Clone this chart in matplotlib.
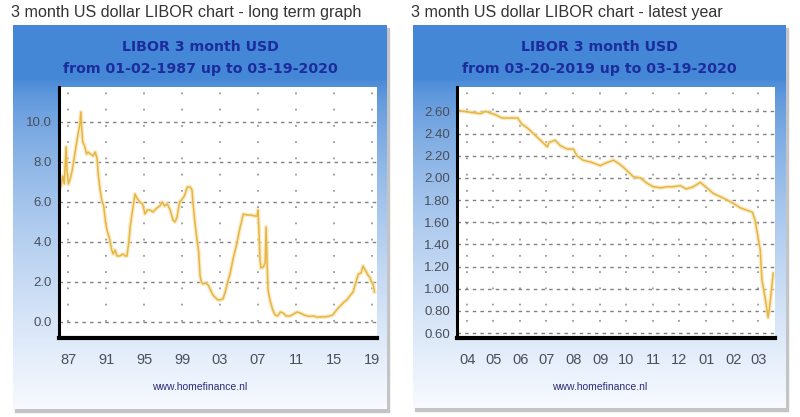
import numpy as np
import matplotlib
matplotlib.use("Agg")
import matplotlib.pyplot as plt
from matplotlib.patches import Rectangle

# long term series (decimal year, rate %)
long_years = [1987.05, 1987.2, 1987.4, 1987.55, 1987.75, 1987.85, 1988.0, 1988.2, 1988.4,
              1988.6, 1988.8, 1989.0, 1989.2, 1989.3, 1989.4, 1989.5, 1989.7, 1989.9,
              1990.05, 1990.3, 1990.6, 1990.8, 1991.0, 1991.15, 1991.3, 1991.5, 1991.7,
              1991.9, 1992.05, 1992.3, 1992.55, 1992.7, 1992.9, 1993.1, 1993.4, 1993.7,
              1994.0, 1994.15, 1994.35, 1994.5, 1994.75, 1995.0, 1995.2, 1995.5, 1995.8,
              1996.05, 1996.3, 1996.6, 1996.9, 1997.3, 1997.6, 1997.9, 1998.1, 1998.4,
              1998.7, 1999.0, 1999.2, 1999.4, 1999.7, 1999.9, 2000.2, 2000.5, 2000.8,
              2001.0, 2001.1, 2001.3, 2001.5, 2001.7, 2001.85, 2002.0, 2002.15, 2002.4,
              2002.7, 2002.95, 2003.2, 2003.5, 2003.75, 2004.0, 2004.25, 2004.5, 2004.75,
              2005.0, 2005.3, 2005.7, 2006.0, 2006.4, 2006.8, 2007.2, 2007.6, 2007.85,
              2007.95, 2008.05, 2008.15, 2008.25, 2008.5, 2008.7, 2008.8, 2008.9, 2009.0,
              2009.2, 2009.5, 2009.75, 2010.0, 2010.3, 2010.6, 2010.9, 2011.3, 2011.7,
              2012.05, 2012.4, 2012.8, 2013.3, 2013.75, 2014.2, 2014.5, 2015.0, 2015.5,
              2015.8, 2016.05, 2016.3, 2016.7, 2017.0, 2017.3, 2017.6, 2017.95, 2018.2,
              2018.5, 2018.8, 2019.0, 2019.15, 2019.3, 2019.5, 2019.7, 2019.9, 2020.05,
              2020.2]
long_rates = [6.6, 6.8, 7.3, 6.9, 8.75, 7.5, 6.9, 7.2, 7.6,
              8.2, 8.8, 9.4, 9.9, 10.5, 9.6, 9.0, 8.8, 8.4,
              8.5, 8.4, 8.3, 8.5, 8.2, 7.3, 6.7, 6.1, 5.8,
              5.0, 4.6, 4.2, 3.6, 3.4, 3.6, 3.3, 3.3, 3.4,
              3.3, 3.3, 4.0, 4.8, 5.6, 6.4, 6.2, 6.0, 5.9,
              5.4, 5.6, 5.6, 5.5, 5.7, 5.8, 6.0, 5.8, 5.9,
              5.6, 5.1, 5.0, 5.2, 6.0, 6.1, 6.3, 6.75, 6.75,
              6.6, 6.0, 5.0, 4.2, 3.5, 2.3, 2.0, 1.9, 1.95,
              1.85, 1.6, 1.35, 1.2, 1.1, 1.12, 1.15, 1.5, 2.0,
              2.4, 3.1, 3.9, 4.6, 5.4, 5.35, 5.35, 5.3, 5.3,
              5.6, 4.5, 3.2, 2.7, 2.75, 2.95, 4.75, 3.0, 1.6,
              1.1, 0.6, 0.35, 0.3, 0.5, 0.45, 0.3, 0.3, 0.4,
              0.5, 0.45, 0.35, 0.28, 0.3, 0.24, 0.25, 0.26, 0.3,
              0.35, 0.5, 0.65, 0.85, 1.0, 1.1, 1.3, 1.5, 1.9,
              2.4, 2.45, 2.8, 2.65, 2.55, 2.35, 2.25, 2.0, 1.9,
              1.5]
long_tick_pos = [1987.95, 1991.95, 1995.95, 1999.95, 2003.95, 2007.95, 2011.95, 2015.95, 2019.95]
long_tick_lab = ['87', '91', '95', '99', '03', '07', '11', '15', '19']
long_yticks = [0, 2, 4, 6, 8, 10]

# latest year series
year_dates = ['2019-03-20', '2019-03-28', '2019-04-06', '2019-04-16', '2019-04-22', '2019-05-03',
              '2019-05-11', '2019-05-20', '2019-05-29', '2019-06-02', '2019-06-09', '2019-06-16',
              '2019-06-24', '2019-07-02', '2019-07-04', '2019-07-11', '2019-07-17', '2019-07-25',
              '2019-08-01', '2019-08-05', '2019-08-12', '2019-08-22', '2019-09-01', '2019-09-06',
              '2019-09-16', '2019-09-22', '2019-09-27', '2019-10-05', '2019-10-09', '2019-10-17',
              '2019-10-25', '2019-11-01', '2019-11-09', '2019-11-17', '2019-11-24', '2019-12-02',
              '2019-12-09', '2019-12-17', '2019-12-25', '2019-12-31', '2020-01-09', '2020-01-17',
              '2020-01-25', '2020-02-01', '2020-02-09', '2020-02-16', '2020-02-23', '2020-02-26',
              '2020-03-01', '2020-03-03', '2020-03-05', '2020-03-09', '2020-03-12', '2020-03-14',
              '2020-03-18']
year_rates = [2.61, 2.60, 2.59, 2.58, 2.60, 2.57,
              2.54, 2.54, 2.54, 2.49, 2.45, 2.40,
              2.34, 2.28, 2.32, 2.34, 2.29, 2.26,
              2.26, 2.20, 2.16, 2.14, 2.11, 2.13,
              2.16, 2.13, 2.10, 2.04, 2.01, 2.00,
              1.95, 1.92, 1.91, 1.92, 1.92, 1.93,
              1.90, 1.92, 1.96, 1.92, 1.86, 1.83,
              1.80, 1.77, 1.73, 1.71, 1.69, 1.62,
              1.44, 1.35, 1.08, 0.90, 0.74, 0.85,
              1.14]
year_tick_dates = ['2019-04-01', '2019-05-01', '2019-06-01', '2019-07-01', '2019-08-01', '2019-09-01',
                   '2019-10-01', '2019-11-01', '2019-12-01', '2020-01-01', '2020-02-01', '2020-03-01']
year_tick_lab = ['04', '05', '06', '07', '08', '09', '10', '11', '12', '01', '02', '03']
year_yticks = [0.6, 0.8, 1.0, 1.2, 1.4, 1.6, 1.8, 2.0, 2.2, 2.4, 2.6]

sans = ['Liberation Sans', 'DejaVu Sans']
W, H = 800, 417
fig = plt.figure(figsize=(8, 4.17), dpi=100)
fig.patch.set_facecolor('white')

# vertical gradient for the panel background
top = np.array([0.27, 0.53, 0.84])
bot = np.array([0.97, 0.98, 1.0])
t = np.linspace(0, 1, 256)
t = np.clip((t - 0.14) / 0.86, 0, 1) ** 0.65
grad = top[None, :] * (1 - t[:, None]) + bot[None, :] * t[:, None]
grad = grad[:, None, :]


def panel(x0, x1, y0, y1, title, sub, ax_x0, ax_x1):
    cx = (x0 + x1) / 2 / W
    # shadow and background
    fig.add_artist(Rectangle(((x0 + 2) / W, 1 - (y1 + 3) / H), (x1 - x0) / W, (y1 - y0) / H,
                             transform=fig.transFigure, color='#c4c4c4', zorder=0))
    bg = fig.add_axes([x0 / W, 1 - y1 / H, (x1 - x0) / W, (y1 - y0) / H], zorder=1)
    bg.imshow(grad, aspect='auto', extent=(0, 1, 0, 1))
    bg.set_axis_off()
    fig.text((x0 - 2) / W, 1 - 12 / H, title, family=sans, fontsize=11.6,
             color='#333333', ha='left', va='center')
    fig.text(cx, 1 - 47 / H, sub[0], fontsize=10.2, fontweight='bold',
             color='#1c2c9c', ha='center', va='center')
    fig.text(cx, 1 - 69 / H, sub[1], fontsize=10.2, fontweight='bold',
             color='#1c2c9c', ha='center', va='center')
    fig.text(cx, 1 - 387 / H, 'www.homefinance.nl', family=sans,
             fontsize=7.5, color='#2a2a7a', ha='center', va='center')
    ax = fig.add_axes([ax_x0 / W, 1 - 338 / H, (ax_x1 - ax_x0) / W, (338 - 87) / H], zorder=2)
    ax.set_facecolor('white')
    for s in ['top', 'right']:
        ax.spines[s].set_visible(False)
    ax.spines['left'].set_linewidth(2.2)
    ax.spines['bottom'].set_linewidth(3)
    ax.tick_params(length=0, colors='#4a4f5a')
    ax.grid(axis='y', color='#808080', linestyle=(0, (2.5, 3)), linewidth=1)
    ax.grid(axis='x', color='#9a9a9a', linestyle=(0, (1, 8)), linewidth=1.3)
    return ax


# left panel: long term
ax1 = panel(13, 387, 25, 409, '3 month US dollar LIBOR chart - long term graph',
            ['LIBOR 3 month USD', 'from 01-02-1987 up to 03-19-2020'], 59, 377)
ax1.plot(long_years, long_rates, color='#f7e2a8', lw=3, alpha=0.7)
ax1.plot(long_years, long_rates, color='#e6b645', lw=1.1)
ax1.set_xlim(1987.0, 2020.47)
ax1.set_ylim(-0.8, 11.75)
ax1.set_xticks(long_tick_pos)
ax1.set_xticklabels(long_tick_lab, family=sans, fontsize=10.5)
ax1.set_yticks(long_yticks)
ax1.set_yticklabels(['%.1f' % v for v in long_yticks], family=sans, fontsize=9.5)
ax1.tick_params(axis='x', pad=11)
ax1.tick_params(axis='y', pad=5)

# right panel: latest year
ax2 = panel(413, 786, 25, 408, '3 month US dollar LIBOR chart - latest year',
            ['LIBOR 3 month USD', 'from 03-20-2019 up to 03-19-2020'], 457, 775)
yd = np.array(year_dates, dtype='datetime64[D]')
ax2.plot(yd, year_rates, color='#f7e2a8', lw=3, alpha=0.7)
ax2.plot(yd, year_rates, color='#e6b645', lw=1.1)
ax2.set_xlim(np.datetime64('2019-03-20'), np.datetime64('2020-03-20'))
ax2.set_ylim(0.555, 2.82)
ax2.set_xticks(np.array(year_tick_dates, dtype='datetime64[D]'))
ax2.set_xticklabels(year_tick_lab, family=sans, fontsize=10.5)
ax2.set_yticks(year_yticks)
ax2.set_yticklabels(['%.2f' % v for v in year_yticks], family=sans, fontsize=9.5)
ax2.tick_params(axis='x', pad=11)
ax2.tick_params(axis='y', pad=5)

fig.savefig('out.png', dpi=100)
